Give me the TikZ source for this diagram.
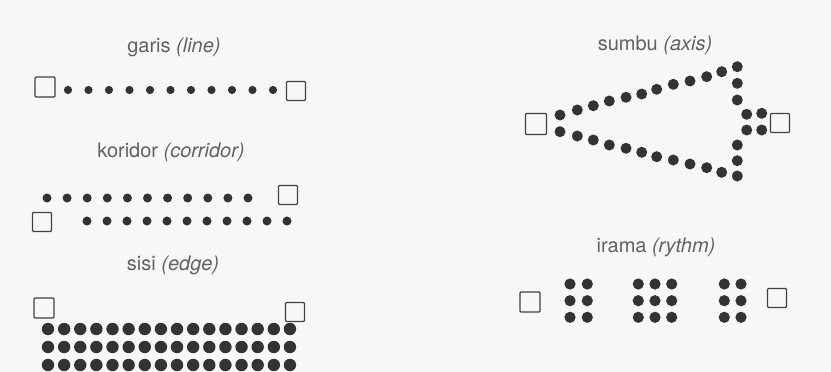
\documentclass[tikz,border=0pt]{standalone}
\usepackage{fontspec}
\setmainfont{TeX Gyre Heros}
\begin{document}
\begin{tikzpicture}[x=1pt,y=-1pt,
  sq/.style={draw=black!75,line width=1.4pt,rounded corners=1pt,minimum width=#1,minimum height=#1,inner sep=0pt,fill=none},
  sq/.default=20pt,
  ttl/.style={text=black!62,font=\fontsize{20}{24}\selectfont,inner sep=0pt},
  dotfill/.style={fill=black!80}]
\useasboundingbox[fill=black!3] (0,0) rectangle (831,372);
% ---------------- garis
\node[ttl] (tgaris) at (174,47) {garis \textit{(line)}};
\node[sq=20pt] (g1) at (45,87) {};
\node[sq=19pt] (g2) at (296,91) {};
\foreach \i in {0,...,10}{\fill[dotfill] (68+20.5*\i,90) circle (4.1pt);}
% ---------------- koridor
\node[ttl] (tkor) at (171,152) {koridor \textit{(corridor)}};
\node[sq=19pt] (k1) at (288,195) {};
\node[sq=19pt] (k2) at (42,222) {};
\foreach \i in {0,...,10}{\fill[dotfill] (47+20.1*\i,198) circle (4.5pt);}
\foreach \i in {0,...,10}{\fill[dotfill] (87+20*\i,221) circle (4.5pt);}
% ---------------- sisi
\node[ttl] (tsisi) at (173,265) {sisi \textit{(edge)}};
\node[sq=20pt] (s1) at (44,308) {};
\node[sq=19pt] (s2) at (295,312) {};
\foreach \r in {0,1,2}{\foreach \i in {0,...,15}{\fill[dotfill] (48+16.13*\i,329+18*\r) circle (6.2pt);}}
% ---------------- sumbu
\node[ttl] (tsumbu) at (655,45) {sumbu \textit{(axis)}};
\node[sq=21pt] (a1) at (536,124) {};
\node[sq=19pt] (a2) at (780,123) {};
\foreach \p in {(560,115),(577.3,110),(593.3,105.7),(609.3,101),(626,97.3),(641.7,94),(656.7,89.3),(673.3,84.3),(690,81),(706.7,76.7),(721.7,71.7),(737.3,66.7),
  (737.3,83.3),(737.3,100),(746.7,114.3),(761.7,113.3),(746.7,130),(761.7,130),(737.3,145),(737.3,160.7),(737.3,176),
  (560,131.7),(577.3,136),(593.3,140),(609.3,145),(626,148.3),(641.7,152.3),(656.7,156.7),(673.3,160),(690,164),(706.7,167.7),(721.7,172.3)}
  {\fill[dotfill] \p circle (5.5pt);}
% ---------------- irama
\node[ttl] (tirama) at (656,247) {irama \textit{(rythm)}};
\node[sq=20pt] (r1) at (530,302) {};
\node[sq=19pt] (r2) at (777,298) {};
\foreach \x in {570,587.3,638.3,655,671.7,724.3,741}{\foreach \y in {284,300.7,317.3}{\fill[dotfill] (\x,\y) circle (5.6pt);}}
\end{tikzpicture}
\end{document}
